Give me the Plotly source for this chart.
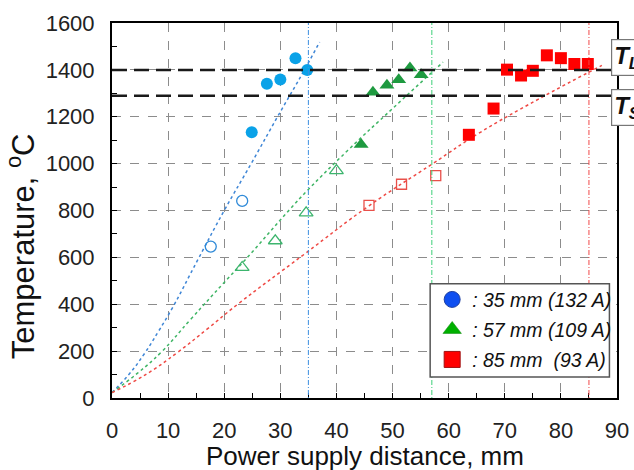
import plotly.graph_objects as go

# Measured temperatures (open = lower range, filled = upper range)
blue_open_x = [17.6, 23.2]
blue_open_y = [646, 841]
blue_fill_x = [24.9, 27.6, 30.0, 32.7, 34.8]
blue_fill_y = [1134, 1341, 1359, 1450, 1399]

green_open_x = [23.2, 29.1, 34.6, 40.0]
green_open_y = [557, 671, 790, 970]
green_fill_x = [44.4, 46.5, 49.0, 51.1, 53.1, 55.1]
green_fill_y = [1082, 1305, 1334, 1358, 1408, 1379]

red_open_x = [45.8, 51.6, 57.7]
red_open_y = [822, 912, 949]
red_fill_x = [63.6, 68.0, 70.4, 72.9, 75.0, 77.5, 80.0, 82.4, 84.8]
red_fill_y = [1123, 1235, 1401, 1376, 1396, 1462, 1450, 1425, 1425]

# Calculated temperature profiles
blue_fit_x = [0, 3, 5.8, 8.3, 10.8, 15.3, 20, 24.8, 29.5, 34.3, 37]
blue_fit_y = [23, 100, 190, 285, 386, 590, 800, 1000, 1200, 1400, 1519]
green_fit_x = [0, 4.5, 8.75, 14, 20, 23.6, 31.6, 34.8, 42, 50, 59]
green_fit_y = [23, 105, 195, 335, 493, 586, 802, 885, 1056, 1235, 1433]
red_fit_x = [0, 6, 11.7, 17, 22.4, 34.3, 45.8, 57.1, 65.4, 76, 87.3]
red_fit_y = [23, 100, 195, 295, 400, 614, 820, 999, 1130, 1275, 1419]

# Power supply distances, liquidus / solidus temperatures
supply_dist = [35, 57, 85]
T_L = 1400
T_S = 1290

legend_labels = [": 35 mm (132 A)", ": 57 mm (109 A)", ": 85 mm\u00a0\u00a0(93 A)"]

x_ticks = list(range(0, 91, 10))
y_ticks = list(range(0, 1601, 200))

x_title = "Power supply distance, mm"
y_title = "Temperature, <sup>o</sup>C"

FONT = "Arial, 'Liberation Sans', sans-serif"

fig = go.Figure()

# vertical supply-distance markers
for d, col in zip(supply_dist, ["#3d8fe0", "#3ccf78", "#f04848"]):
    fig.add_vline(x=d, line=dict(color=col, width=1, dash="1px,2px,5px,2px"), layer="above")

# fit curves
for fx, fy, col in [(blue_fit_x, blue_fit_y, "#3f86d6"),
                    (green_fit_x, green_fit_y, "#3fb565"),
                    (red_fit_x, red_fit_y, "#ef4a45")]:
    fig.add_trace(go.Scatter(x=fx, y=fy, mode="lines", showlegend=False,
                             line=dict(color=col, width=1.5, dash="dot", shape="spline", smoothing=1.3),
                             hoverinfo="skip"))

# liquidus / solidus lines
for t in [T_L, T_S]:
    fig.add_hline(y=t, line=dict(color="#1a1a1a", width=2.5, dash="15px,7px"))

# measured points
fig.add_trace(go.Scatter(x=blue_open_x, y=blue_open_y, mode="markers", showlegend=False,
                         marker=dict(symbol="circle-open", size=11, color="#2f8ad8", line=dict(width=1.3))))
fig.add_trace(go.Scatter(x=blue_fill_x, y=blue_fill_y, mode="markers", showlegend=False,
                         marker=dict(symbol="circle", size=12, color="#0aa2e8")))
fig.add_trace(go.Scatter(x=green_open_x, y=green_open_y, mode="markers", showlegend=False,
                         marker=dict(symbol="triangle-up-open", size=12, color="#3db56e", line=dict(width=1.3))))
fig.add_trace(go.Scatter(x=green_fill_x, y=green_fill_y, mode="markers", showlegend=False,
                         marker=dict(symbol="triangle-up", size=13, color="#1e9a40")))
fig.add_trace(go.Scatter(x=red_open_x, y=red_open_y, mode="markers", showlegend=False,
                         marker=dict(symbol="square-open", size=10, color="#e8504a", line=dict(width=1.3))))
fig.add_trace(go.Scatter(x=red_fill_x, y=red_fill_y, mode="markers", showlegend=False,
                         marker=dict(symbol="square", size=12, color="#ff0000")))

# legend entries, one legend per row
leg_styles = [
    dict(symbol="circle", size=16, color="#0f4ff0", line=dict(color="#2040a0", width=1)),
    dict(symbol="triangle-up", size=16, color="#00b000", line=dict(color="#008000", width=0.5)),
    dict(symbol="square", size=16, color="#ff0000", line=dict(color="#a01010", width=1)),
]
leg_names = ["legend", "legend2", "legend3"]
for lab, st, ln in zip(legend_labels, leg_styles, leg_names):
    fig.add_trace(go.Scatter(x=[None], y=[None], mode="markers", name="<i>" + lab + "</i>",
                             marker=st, legend=ln, showlegend=True))

# legend frame
fig.add_shape(type="rect", xref="paper", yref="paper", x0=0.630, x1=0.985, y0=0.056, y1=0.305,
              line=dict(color="#555555", width=1.5), fillcolor="white", layer="above")

leg_common = dict(bgcolor="rgba(0,0,0,0)", borderwidth=0, font=dict(family=FONT, size=19.5, color="#111"),
                  xanchor="left", yanchor="middle", itemclick=False, itemdoubleclick=False)
fig.update_layout(
    legend=dict(x=0.634, y=0.262, **leg_common),
    legend2=dict(x=0.634, y=0.182, **leg_common),
    legend3=dict(x=0.634, y=0.102, **leg_common),
)

# T_L / T_S labels
for txt, yp in [("<b><i>T</i></b><sub><b><i>L</i></b></sub>", 0.907),
                ("<b><i>T</i></b><sub><b><i>S</i></b></sub>", 0.775)]:
    fig.add_annotation(text=txt, xref="paper", yref="paper", x=0.989, y=yp, xanchor="left", yanchor="middle",
                       showarrow=False, bgcolor="white", bordercolor="#777777", borderwidth=1.2,
                       borderpad=2, width=26, align="left",
                       font=dict(family=FONT, size=24, color="#111"))

# axis titles
fig.add_annotation(text=x_title, xref="paper", yref="paper", x=0.5, y=-0.155,
                   xanchor="center", yanchor="middle", showarrow=False,
                   font=dict(family=FONT, size=26, color="#111"))
fig.add_annotation(text=y_title, xref="paper", yref="paper", x=-0.18, y=0.405, textangle=-90,
                   xanchor="center", yanchor="middle", showarrow=False,
                   font=dict(family=FONT, size=31, color="#111"))

axis_common = dict(showline=True, mirror=True, linecolor="black", linewidth=2,
                   ticks="inside", ticklen=5, tickcolor="black", tickwidth=1,
                   showgrid=True, gridcolor="#8c8c8c", gridwidth=1, griddash="dash",
                   zeroline=False, automargin=False,
                   tickfont=dict(family=FONT, size=22, color="#222"))

fig.update_xaxes(range=[0, 90], tickvals=x_ticks, ticktext=[str(v) for v in x_ticks],
                 minor=dict(dtick=5, ticks="inside", ticklen=5, tickcolor="black", showgrid=False),
                 ticklabelstandoff=12, **axis_common)
fig.update_yaxes(range=[0, 1600], tickvals=y_ticks, ticktext=[str(v) for v in y_ticks],
                 minor=dict(dtick=100, ticks="inside", ticklen=5, tickcolor="black", showgrid=False),
                 ticklabelstandoff=11, **axis_common)

fig.update_layout(
    width=634, height=470,
    margin=dict(l=112, r=17, t=23, b=72),
    plot_bgcolor="white", paper_bgcolor="white",
    font=dict(family=FONT),
)

fig.write_html("out.html")
